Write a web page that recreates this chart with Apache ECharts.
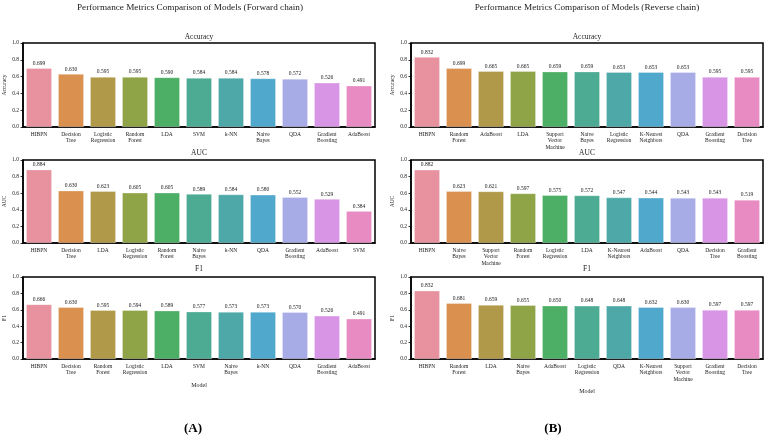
<!DOCTYPE html>
<html>
<head>
<meta charset="utf-8">
<title>Performance Metrics Comparison</title>
<script src="https://cdn.jsdelivr.net/npm/echarts@6/dist/echarts.min.js"></script>
<style>
  html, body { margin: 0; padding: 0; background: #fff; }
  #main { width: 767px; height: 439px; }
</style>
</head>
<body>
<div id="main"></div>
<script type="text/javascript">
// forward chain (A)
var accFwdModels = ['HIBPN', 'Decision\nTree', 'Logistic\nRegression', 'Random\nForest', 'LDA', 'SVM', 'k-NN', 'Naive\nBayes', 'QDA', 'Gradient\nBoosting', 'AdaBoost'];
var accFwdValues = [0.699, 0.630, 0.595, 0.595, 0.590, 0.584, 0.584, 0.578, 0.572, 0.526, 0.491];
var aucFwdModels = ['HIBPN', 'Decision\nTree', 'LDA', 'Logistic\nRegression', 'Random\nForest', 'Naive\nBayes', 'k-NN', 'QDA', 'Gradient\nBoosting', 'AdaBoost', 'SVM'];
var aucFwdValues = [0.884, 0.630, 0.623, 0.605, 0.605, 0.589, 0.584, 0.580, 0.552, 0.529, 0.384];
var f1FwdModels = ['HIBPN', 'Decision\nTree', 'Random\nForest', 'Logistic\nRegression', 'LDA', 'SVM', 'Naive\nBayes', 'k-NN', 'QDA', 'Gradient\nBoosting', 'AdaBoost'];
var f1FwdValues = [0.666, 0.630, 0.595, 0.594, 0.589, 0.577, 0.573, 0.573, 0.570, 0.526, 0.491];

// reverse chain (B)
var accRevModels = ['HIBPN', 'Random\nForest', 'AdaBoost', 'LDA', 'Support\nVector\nMachine', 'Naive\nBayes', 'Logistic\nRegression', 'K-Nearest\nNeighbors', 'QDA', 'Gradient\nBoosting', 'Decision\nTree'];
var accRevValues = [0.832, 0.699, 0.665, 0.665, 0.659, 0.659, 0.653, 0.653, 0.653, 0.595, 0.595];
var aucRevModels = ['HIBPN', 'Naive\nBayes', 'Support\nVector\nMachine', 'Random\nForest', 'Logistic\nRegression', 'LDA', 'K-Nearest\nNeighbors', 'AdaBoost', 'QDA', 'Decision\nTree', 'Gradient\nBoosting'];
var aucRevValues = [0.882, 0.623, 0.621, 0.597, 0.575, 0.572, 0.547, 0.544, 0.543, 0.543, 0.519];
var f1RevModels = ['HIBPN', 'Random\nForest', 'LDA', 'Naive\nBayes', 'AdaBoost', 'Logistic\nRegression', 'QDA', 'K-Nearest\nNeighbors', 'Support\nVector\nMachine', 'Gradient\nBoosting', 'Decision\nTree'];
var f1RevValues = [0.832, 0.681, 0.659, 0.655, 0.650, 0.648, 0.648, 0.632, 0.630, 0.597, 0.597];

var yTicks = [0, 0.2, 0.4, 0.6, 0.8, 1.0];
var palette = ['#e8929f', '#da9150', '#b09a4a', '#8fa447', '#4daf66', '#4dab94', '#4ea8a8', '#50a9cd', '#a8ace6', '#d895e6', '#e98bc3'];

var FONT = '"Liberation Serif", "DejaVu Serif", serif';

var panels = [
    { models: accFwdModels, values: accFwdValues, name: 'Accuracy', col: 0, row: 0 },
    { models: aucFwdModels, values: aucFwdValues, name: 'AUC', col: 0, row: 1 },
    { models: f1FwdModels, values: f1FwdValues, name: 'F1', col: 0, row: 2 },
    { models: accRevModels, values: accRevValues, name: 'Accuracy', col: 1, row: 0 },
    { models: aucRevModels, values: aucRevValues, name: 'AUC', col: 1, row: 1 },
    { models: f1RevModels, values: f1RevValues, name: 'F1', col: 1, row: 2 }
];

var colLeft = [23, 411];
var colWidth = 352;
var rowTop = [43, 160, 277];
var rowHeight = [84, 83, 82];
var titleTop = [33, 149, 265];

var grid = [], xAxis = [], yAxis = [], series = [];
var title = [
    { text: 'Performance Metrics Comparison of Models (Forward chain)', left: 190, top: 3, textAlign: 'center', padding: 0,
      textStyle: { fontFamily: FONT, fontSize: 9.2, fontWeight: 'normal', color: '#222' } },
    { text: 'Performance Metrics Comparison of Models (Reverse chain)', left: 587, top: 3, textAlign: 'center', padding: 0,
      textStyle: { fontFamily: FONT, fontSize: 9.2, fontWeight: 'normal', color: '#222' } },
    { text: '(A)', left: 193, top: 422, textAlign: 'center', padding: 0,
      textStyle: { fontFamily: FONT, fontSize: 13, fontWeight: 'bold', color: '#000' } },
    { text: '(B)', left: 553, top: 422, textAlign: 'center', padding: 0,
      textStyle: { fontFamily: FONT, fontSize: 13, fontWeight: 'bold', color: '#000' } }
];

panels.forEach(function (p, i) {
    var left = colLeft[p.col], top = rowTop[p.row];
    grid.push({
        left: left, top: top, width: colWidth, height: rowHeight[p.row],
        show: true, borderColor: '#000', borderWidth: 1.5, outerBoundsMode: 'none'
    });
    title.push({
        text: p.name, left: left + colWidth / 2, top: titleTop[p.row], textAlign: 'center', padding: 0,
        textStyle: { fontFamily: FONT, fontSize: 7.5, fontWeight: 'normal', color: '#222' }
    });
    xAxis.push({
        type: 'category', gridIndex: i, data: p.models,
        name: p.row === 2 ? 'Model' : '',
        nameLocation: 'middle', nameGap: p.col === 0 ? 23 : 29,
        nameTextStyle: { fontFamily: FONT, fontSize: 6, color: '#222' },
        axisLine: { lineStyle: { color: '#000', width: 1.5 } },
        axisTick: { alignWithLabel: true, length: 2.5, lineStyle: { color: '#000', width: 0.8 } },
        axisLabel: { interval: 0, fontFamily: FONT, fontSize: 5.5, lineHeight: 6.5, color: '#222', margin: 4 }
    });
    yAxis.push({
        type: 'value', gridIndex: i, min: yTicks[0], max: yTicks[yTicks.length - 1], interval: 0.2,
        name: p.name, nameLocation: 'middle', nameGap: 15,
        nameTextStyle: { fontFamily: FONT, fontSize: 5.5, color: '#222' },
        axisLine: { show: true, lineStyle: { color: '#000', width: 1.5 } },
        axisTick: { show: true, length: 2.5, lineStyle: { color: '#000', width: 0.8 } },
        splitLine: { show: false },
        axisLabel: { fontFamily: FONT, fontSize: 5.5, color: '#222', margin: 4,
            formatter: function (v) { return v.toFixed(1); } }
    });
    series.push({
        type: 'bar', xAxisIndex: i, yAxisIndex: i, data: p.values,
        barCategoryGap: '20%',
        itemStyle: {
            color: function (d) { return palette[d.dataIndex]; },
            borderColor: 'rgba(255,255,255,0.6)', borderWidth: 0.5
        },
        label: {
            show: true, position: 'top', distance: 2,
            fontFamily: FONT, fontSize: 5.5, color: '#222',
            formatter: function (d) { return d.value.toFixed(3); }
        }
    });
});

var myChart = echarts.init(document.getElementById('main'));
myChart.setOption({
    animation: false,
    backgroundColor: '#fff',
    title: title,
    grid: grid,
    xAxis: xAxis,
    yAxis: yAxis,
    series: series
});
</script>
</body>
</html>
